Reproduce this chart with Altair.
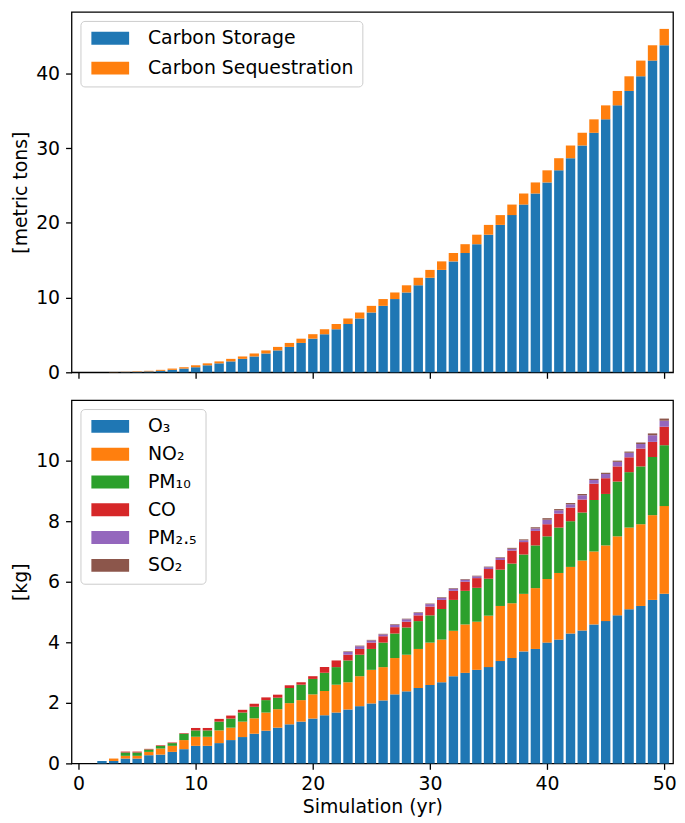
import altair as alt
import pandas as pd

years = list(range(1, 51))

# Top panel (metric tons)
carbon_storage = [0, 0, 0.01, 0.03, 0.06, 0.12, 0.20, 0.33, 0.50, 0.68,
                  0.94, 1.20, 1.46, 1.80, 2.12, 2.52, 2.93, 3.40, 3.93, 4.50,
                  5.10, 5.76, 6.46, 7.20, 8.00, 8.89, 9.80, 10.68, 11.64, 12.65,
                  13.70, 14.84, 15.96, 17.14, 18.41, 19.72, 21.03, 22.44, 23.92, 25.40,
                  27.02, 28.64, 30.34, 32.04, 33.84, 35.71, 37.64, 39.60, 41.70, 43.75]
carbon_sequestration = [0, 0.01, 0.02, 0.03, 0.06, 0.08, 0.13, 0.17, 0.18, 0.26,
                        0.26, 0.26, 0.34, 0.32, 0.40, 0.41, 0.47, 0.53, 0.57, 0.60,
                        0.66, 0.70, 0.74, 0.80, 0.89, 0.91, 0.88, 0.96, 1.01, 1.05,
                        1.14, 1.12, 1.18, 1.27, 1.31, 1.31, 1.41, 1.48, 1.48, 1.62,
                        1.62, 1.70, 1.70, 1.80, 1.87, 1.93, 1.96, 2.10, 2.05, 2.19]

# Bottom panel (kg)
o3 = [0, 0.08, 0.08, 0.16, 0.16, 0.27, 0.29, 0.38, 0.47, 0.58,
      0.58, 0.67, 0.77, 0.87, 0.98, 1.08, 1.18, 1.29, 1.38, 1.48,
      1.59, 1.68, 1.78, 1.89, 1.98, 2.08, 2.28, 2.38, 2.49, 2.59,
      2.68, 2.88, 2.99, 3.09, 3.18, 3.38, 3.48, 3.70, 3.78, 3.99,
      4.09, 4.29, 4.39, 4.59, 4.70, 4.89, 5.09, 5.20, 5.40, 5.60]
no2 = [0, 0, 0.08, 0.09, 0.09, 0.11, 0.20, 0.20, 0.30, 0.30,
       0.30, 0.42, 0.41, 0.51, 0.51, 0.60, 0.61, 0.70, 0.71, 0.80,
       0.80, 0.92, 0.90, 0.99, 1.11, 1.10, 1.20, 1.21, 1.29, 1.40,
       1.41, 1.50, 1.60, 1.59, 1.70, 1.82, 1.81, 1.90, 2.01, 2.10,
       2.20, 2.20, 2.31, 2.41, 2.50, 2.61, 2.70, 2.70, 2.80, 2.90]
pm10 = [0, 0, 0, 0.11, 0.11, 0.08, 0.09, 0.09, 0.21, 0.21,
        0.21, 0.29, 0.30, 0.30, 0.38, 0.41, 0.38, 0.50, 0.51, 0.51,
        0.60, 0.58, 0.72, 0.71, 0.69, 0.81, 0.81, 0.90, 0.92, 0.90,
        1.01, 1.02, 1.11, 1.12, 1.22, 1.20, 1.31, 1.30, 1.41, 1.41,
        1.50, 1.51, 1.59, 1.70, 1.70, 1.81, 1.83, 1.91, 1.92, 2.01]
co = [0, 0, 0, 0.03, 0.03, 0.02, 0.02, 0.02, 0.02, 0.08,
      0.08, 0.09, 0.10, 0.09, 0.10, 0.09, 0.10, 0.09, 0.08, 0.09,
      0.19, 0.22, 0.19, 0.19, 0.21, 0.21, 0.21, 0.19, 0.19, 0.29,
      0.30, 0.30, 0.30, 0.32, 0.32, 0.32, 0.43, 0.41, 0.48, 0.40,
      0.46, 0.45, 0.43, 0.54, 0.52, 0.50, 0.49, 0.59, 0.50, 0.61]
pm25 = [0, 0, 0, 0, 0, 0, 0, 0, 0, 0,
        0, 0, 0, 0, 0, 0, 0, 0, 0, 0,
        0, 0, 0.09, 0.09, 0.07, 0.06, 0.08, 0.08, 0.08, 0.08,
        0.07, 0.07, 0.07, 0.06, 0.06, 0.07, 0.06, 0.06, 0.08, 0.15,
        0.11, 0.11, 0.14, 0.12, 0.14, 0.15, 0.15, 0.15, 0.22, 0.20]
so2 = [0, 0, 0, 0, 0, 0, 0, 0, 0, 0,
       0, 0, 0, 0, 0, 0, 0, 0, 0, 0,
       0, 0, 0.02, 0.02, 0.02, 0.02, 0.02, 0.02, 0.02, 0.02,
       0.02, 0.02, 0.02, 0.02, 0.02, 0.02, 0.03, 0.03, 0.04, 0.05,
       0.04, 0.04, 0.04, 0.04, 0.04, 0.04, 0.04, 0.05, 0.06, 0.07]

carbon_names = ["Carbon Storage", "Carbon Sequestration"]
carbon_series = [carbon_storage, carbon_sequestration]
poll_names = ["O₃", "NO₂", "PM₁₀", "CO", "PM₂.₅", "SO₂"]
poll_series = [o3, no2, pm10, co, pm25, so2]
tab10 = ["#1f77b4", "#ff7f0e", "#2ca02c", "#d62728", "#9467bd", "#8c564b"]


def long_frame(names, series):
    rows = []
    for i, (n, vals) in enumerate(zip(names, series)):
        for y, v in zip(years, vals):
            rows.append({"year": y, "series": n, "idx": i, "value": v})
    return pd.DataFrame(rows)


FONT = "DejaVu Sans"
FS = 19
BAR_HALF = 0.4
X_DOMAIN = [-0.6, 50.75]


def legend_kw(row_pad):
    return dict(
        orient="top-left", title=None, offset=9, padding=8,
        strokeColor="#cccccc", fillColor="white", cornerRadius=4,
        # wide patch (about 38 x 13 px) drawn from a 13 px nominal symbol
        symbolType="M-1,-1L4.85,-1L4.85,1L-1,1Z", symbolSize=169,
        symbolStrokeWidth=0, symbolOpacity=1,
        labelFontSize=FS, labelFont=FONT, labelColor="black", labelLimit=500,
        labelOffset=41, rowPadding=row_pad,
    )


def panel(df, names, ymax, yticks, ytitle, show_x_labels, height, row_pad):
    x_axis = alt.Axis(
        values=[0, 10, 20, 30, 40, 50], labels=show_x_labels,
        title="Simulation (yr)" if show_x_labels else None,
        grid=False, tickSize=6, labelPadding=5, titlePadding=4,
    )
    return (
        alt.Chart(df)
        .transform_calculate(x0=f"datum.year - {BAR_HALF}", x1=f"datum.year + {BAR_HALF}")
        .transform_stack(stack="value", groupby=["year"], as_=["y0", "y1"],
                         sort=[alt.SortField("idx", order="ascending")])
        .mark_bar()
        .encode(
            x=alt.X("x0:Q", scale=alt.Scale(domain=X_DOMAIN, nice=False, zero=False), axis=x_axis),
            x2="x1:Q",
            y=alt.Y("y0:Q", scale=alt.Scale(domain=[0, ymax], nice=False),
                    axis=alt.Axis(values=yticks, title=ytitle, grid=False, tickSize=6,
                                  labelPadding=6, titlePadding=5)),
            y2="y1:Q",
            color=alt.Color("series:N",
                            scale=alt.Scale(domain=names, range=tab10[:len(names)]),
                            legend=alt.Legend(**legend_kw(row_pad))),
        )
        .properties(width=606, height=height)
    )


top = panel(long_frame(carbon_names, carbon_series), carbon_names, 48.2,
            [0, 10, 20, 30, 40], "[metric tons]", False, 363, 10)
bottom = panel(long_frame(poll_names, poll_series), poll_names, 12.0,
               [0, 2, 4, 6, 8, 10], "[kg]", True, 366, 8)

chart = (
    alt.vconcat(top, bottom, spacing=16)
    .resolve_scale(color="independent")
    .resolve_legend(color="independent")
    .properties(padding={"left": 3, "top": 0, "right": 0, "bottom": 0})
    .configure_view(stroke="black", strokeWidth=1.3)
    .configure_axis(
        domain=False, tickColor="black", tickWidth=1.3,
        labelFont=FONT, labelFontSize=FS, labelColor="black",
        titleFont=FONT, titleFontSize=FS, titleColor="black", titleFontWeight="normal",
    )
)

chart.save("out.html", embed_options={"renderer": "svg", "actions": False})
